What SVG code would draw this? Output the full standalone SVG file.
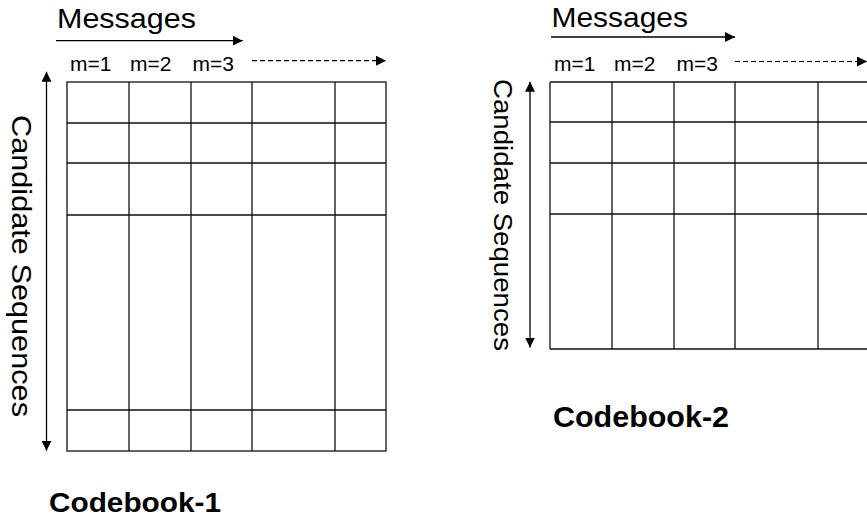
<svg xmlns="http://www.w3.org/2000/svg" width="867" height="520" viewBox="0 0 867 520">
  <style>
    .grid { fill: none; stroke: #111; stroke-width: 1.3; }
    .lbl { font-family: "Liberation Sans", Arial, sans-serif; fill: #000; }
    .title { font-family: "Liberation Sans", Arial, sans-serif; font-weight: bold; fill: #000; }
    .axis { stroke: #000; stroke-width: 1.3; fill: none; }
    .dash { stroke: #000; stroke-width: 1.2; fill: none; stroke-dasharray: 5 3; }
  </style>
  <defs>
    <marker id="head" viewBox="0 0 10 10" refX="10" refY="5" markerWidth="10" markerHeight="10" markerUnits="userSpaceOnUse" orient="auto-start-reverse">
      <path d="M0,0 L10,5 L0,10 Z" fill="#000"/>
    </marker>
  </defs>

  <rect width="867" height="520" fill="#fff"/>

  <!-- Codebook 1 -->
  <g id="codebook1">
    <rect class="grid" x="67" y="82" width="319" height="369"/>
    <path class="grid" d="M129,82V451 M191,82V451 M252,82V451 M335,82V451 M67,123H386 M67,163H386 M67,215H386 M67,410H386"/>
    <text class="lbl" x="57" y="27.5" font-size="28" textLength="139" lengthAdjust="spacingAndGlyphs">Messages</text>
    <text class="lbl" x="70" y="70.7" font-size="21">m=1</text>
    <text class="lbl" x="130" y="70.7" font-size="21">m=2</text>
    <text class="lbl" x="192.5" y="70.7" font-size="21">m=3</text>
    <text class="lbl" transform="translate(12,115) rotate(90)" font-size="27" textLength="302" lengthAdjust="spacingAndGlyphs">Candidate Sequences</text>
    <text class="title" x="49" y="511.7" font-size="28" textLength="172" lengthAdjust="spacingAndGlyphs">Codebook-1</text>
  </g>

  <!-- Codebook 2 (right edge runs off the canvas) -->
  <g id="codebook2">
    <path class="grid" d="M550,82H869 M550,349H869 M550,82V349 M612,82V349 M674,82V349 M735,82V349 M818,82V349 M550,122H869 M550,163H869 M550,214H869"/>
    <text class="lbl" x="551.5" y="26.8" font-size="28" textLength="136.5" lengthAdjust="spacingAndGlyphs">Messages</text>
    <text class="lbl" x="554" y="70.7" font-size="21">m=1</text>
    <text class="lbl" x="614" y="70.7" font-size="21">m=2</text>
    <text class="lbl" x="676.5" y="70.7" font-size="21">m=3</text>
    <text class="lbl" transform="translate(494,79) rotate(90)" font-size="26" textLength="272" lengthAdjust="spacingAndGlyphs">Candidate Sequences</text>
    <text class="title" x="553" y="426.7" font-size="30" textLength="176" lengthAdjust="spacingAndGlyphs">Codebook-2</text>
  </g>

  <g id="connectors">
    <line class="axis" x1="56" y1="40.7" x2="242.7" y2="40.7" marker-end="url(#head)"/>
    <line class="dash" x1="252" y1="60.7" x2="386" y2="60.7" marker-end="url(#head)"/>
    <line class="axis" x1="46.5" y1="71.7" x2="46.5" y2="450.7" marker-start="url(#head)" marker-end="url(#head)"/>

    <line class="axis" x1="551" y1="37" x2="735" y2="37" marker-end="url(#head)"/>
    <line class="dash" x1="735" y1="61.5" x2="867" y2="61.5" marker-end="url(#head)"/>
    <line class="axis" x1="530" y1="81.7" x2="530" y2="347.5" marker-start="url(#head)" marker-end="url(#head)"/>
  </g>
</svg>
